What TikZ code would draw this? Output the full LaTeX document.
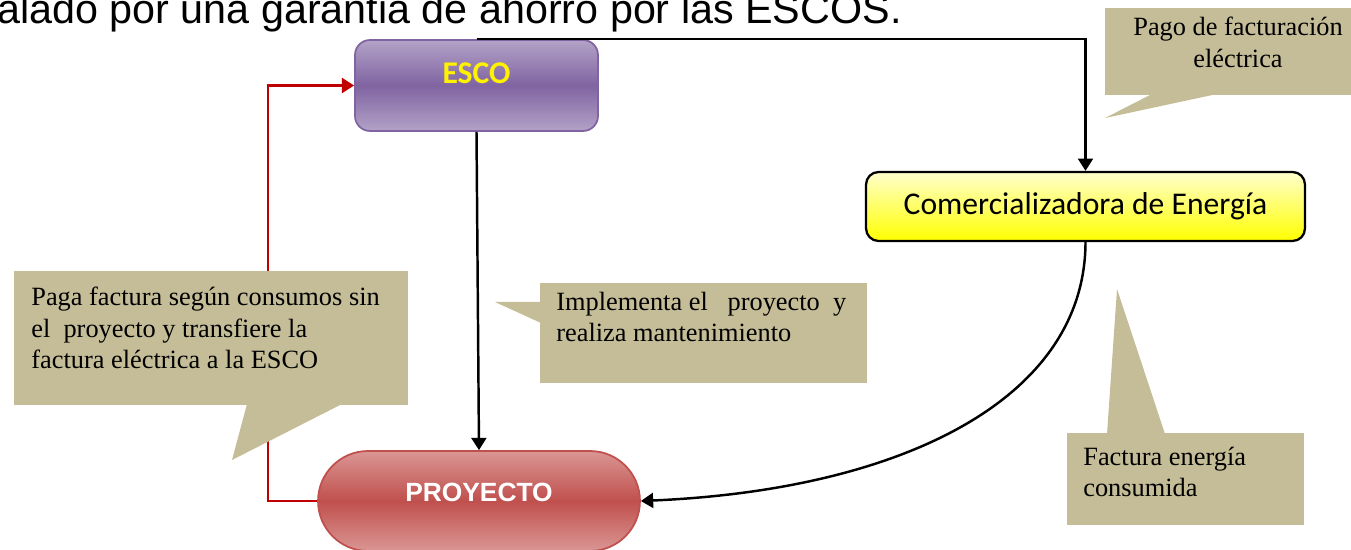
\documentclass[tikz,border=0pt]{standalone}
\usepackage{fontspec}
\setmainfont{Liberation Serif}
\newfontfamily\arialfont{Liberation Sans}
\newfontfamily\calibrifont{Carlito}
\usetikzlibrary{arrows.meta,positioning}
\definecolor{nota}{HTML}{C4BD97}
\definecolor{escoclaro}{HTML}{B3A2C7}
\definecolor{escooscuro}{HTML}{8064A2}
\definecolor{proyclaro}{HTML}{DA9694}
\definecolor{proyoscuro}{HTML}{C0504D}
\definecolor{comerclaro}{HTML}{FFFFCC}
\definecolor{rojo}{HTML}{C00000}

\begin{document}
\begin{tikzpicture}[x=0.02cm,y=-0.02cm,
  >={Triangle[length=7pt,width=8.5pt]},
  flecha/.style={->,line width=1.4pt,black},
  notatexto/.style={inner sep=0pt,font=\fontsize{15}{17.8}\selectfont}]
\useasboundingbox (0,0) rectangle (1351,550);

\node[anchor=base west,inner sep=0pt,font=\arialfont\fontsize{23.5}{26}\selectfont] (titulo) at (-3,24) {alado por una garantia de ahorro por las ESCOS.};

\node[rounded corners=0.3cm, draw=escooscuro, line width=1pt,
  top color=escoclaro, bottom color=escoclaro, middle color=escooscuro,
  minimum width=4.86cm, minimum height=1.82cm, text height=0.41cm, text depth=0.48cm,
  font=\calibrifont\bfseries\fontsize{18}{21}\selectfont, text=yellow] (esco) at (476.5,85.5) {ESCO};
\node[rounded corners=0.25cm, draw=black, line width=1.3pt,
  top color=comerclaro, bottom color=yellow,
  minimum width=8.78cm, minimum height=1.38cm,
  font=\calibrifont\fontsize{18}{21}\selectfont] (comer) at (1085.5,206.5) {Comercializadora de Energía};
\node[rounded corners=1cm, draw=proyoscuro, line width=1pt,
  top color=proyclaro, bottom color=proyclaro, middle color=proyoscuro,
  minimum width=6.44cm, minimum height=2cm, text height=0.36cm, text depth=0.36cm,
  font=\arialfont\bfseries\fontsize{15}{18}\selectfont, text=white] (proyecto) at (479,501) {PROYECTO};

% conectores
\draw[flecha] (esco.north) -| (comer.north);
\draw[flecha] (esco.south) -- (proyecto.north);
\draw[flecha] (comer.south) .. controls (1085,400) and (900,490) .. (proyecto.east);
\draw[->,line width=1.5pt,rojo] (proyecto.west) -- ++(-49,0) |- (esco.west);

% notas
\fill[nota] (1105,8) rectangle (1360,95);
\fill[nota] (1152,94) -- (1217,94) -- (1105,118) -- cycle;
\node[notatexto,anchor=north,align=center] (tpago) at (1238,17) {Pago de facturación\\eléctrica};

\fill[nota] (14,271) rectangle (408,405);
\fill[nota] (247,404) -- (342,404) -- (232,460) -- cycle;
\node[notatexto,anchor=north west,align=left] (tpaga) at (31,287) {Paga factura según consumos sin\\el\ \ proyecto y transfiere la\\factura eléctrica a la ESCO};

\fill[nota] (540,283) rectangle (867,383);
\fill[nota] (541,302) -- (541,323) -- (495,302) -- cycle;
\node[notatexto,anchor=north west,align=left] (timpl) at (556,292) {Implementa el\ \ \ proyecto\ \ y\\realiza mantenimiento};

\fill[nota] (1067,433) rectangle (1304,525);
\fill[nota] (1107,434) -- (1165,434) -- (1117,289) -- cycle;
\node[notatexto,anchor=north west,align=left] (tfact) at (1083,447) {Factura energía\\consumida};
\end{tikzpicture}
\end{document}
